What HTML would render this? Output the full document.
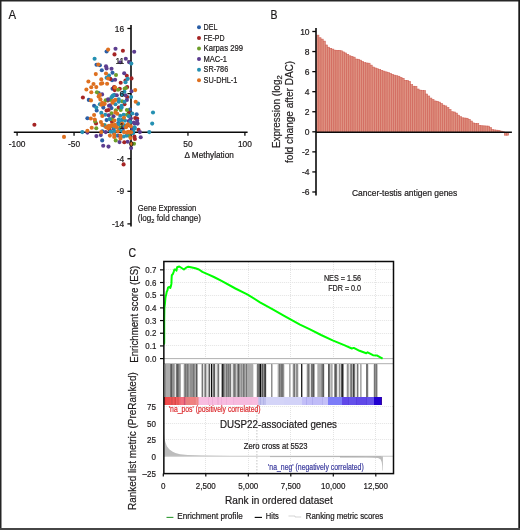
<!DOCTYPE html><html><head><meta charset="utf-8"><style>html,body{margin:0;padding:0;background:#fff;}svg{display:block;filter:blur(0.3px);}text{font-family:"Liberation Sans", sans-serif;stroke-width:0.2px;}</style></head><body>
<svg width="520" height="530" viewBox="0 0 520 530">
<rect x="0" y="0" width="520" height="530" fill="#fff"/>
<text x="8.4" y="18.8" font-size="12.4" text-anchor="start" fill="#1e1b1c" stroke="#1e1b1c" textLength="7.6" lengthAdjust="spacingAndGlyphs">A</text>
<line x1="13.8" y1="132.3" x2="247.6" y2="132.3" stroke="#0a0a0a" stroke-width="1.6"/>
<line x1="131" y1="25" x2="131" y2="226.4" stroke="#0a0a0a" stroke-width="1.6"/>
<line x1="17.10" y1="132.3" x2="17.10" y2="135.8" stroke="#0a0a0a" stroke-width="1.3"/>
<line x1="74.05" y1="132.3" x2="74.05" y2="135.8" stroke="#0a0a0a" stroke-width="1.3"/>
<line x1="187.95" y1="132.3" x2="187.95" y2="135.8" stroke="#0a0a0a" stroke-width="1.3"/>
<line x1="244.90" y1="132.3" x2="244.90" y2="135.8" stroke="#0a0a0a" stroke-width="1.3"/>
<line x1="127.4" y1="28.50" x2="131" y2="28.50" stroke="#0a0a0a" stroke-width="1.3"/>
<line x1="127.4" y1="61.06" x2="131" y2="61.06" stroke="#0a0a0a" stroke-width="1.3"/>
<line x1="127.4" y1="93.63" x2="131" y2="93.63" stroke="#0a0a0a" stroke-width="1.3"/>
<line x1="127.4" y1="126.19" x2="131" y2="126.19" stroke="#0a0a0a" stroke-width="1.3"/>
<line x1="127.4" y1="158.76" x2="131" y2="158.76" stroke="#0a0a0a" stroke-width="1.3"/>
<line x1="127.4" y1="191.32" x2="131" y2="191.32" stroke="#0a0a0a" stroke-width="1.3"/>
<line x1="127.4" y1="223.89" x2="131" y2="223.89" stroke="#0a0a0a" stroke-width="1.3"/>
<circle cx="106.6" cy="51.5" r="2.05" fill="#2a5ea6"/>
<circle cx="96.5" cy="64.8" r="2.05" fill="#2a5ea6"/>
<circle cx="99.9" cy="65.2" r="2.05" fill="#2a5ea6"/>
<circle cx="101.8" cy="70.3" r="2.05" fill="#2a5ea6"/>
<circle cx="112.5" cy="72.8" r="2.05" fill="#2a5ea6"/>
<circle cx="112.1" cy="80.2" r="2.05" fill="#2a5ea6"/>
<circle cx="112.5" cy="88.8" r="2.05" fill="#2a5ea6"/>
<circle cx="98.65" cy="93.1" r="2.05" fill="#2a5ea6"/>
<circle cx="129.9" cy="109.6" r="2.05" fill="#2a5ea6"/>
<circle cx="136.65" cy="114.2" r="2.05" fill="#2a5ea6"/>
<circle cx="88.8" cy="99.9" r="2.05" fill="#2a5ea6"/>
<circle cx="94.1" cy="105.7" r="2.05" fill="#2a5ea6"/>
<circle cx="103.3" cy="107.6" r="2.05" fill="#2a5ea6"/>
<circle cx="96.7" cy="110.5" r="2.05" fill="#2a5ea6"/>
<circle cx="87.4" cy="118.2" r="2.05" fill="#2a5ea6"/>
<circle cx="106.6" cy="120.1" r="2.05" fill="#2a5ea6"/>
<circle cx="102.3" cy="131.2" r="2.05" fill="#2a5ea6"/>
<circle cx="114.4" cy="95.1" r="2.05" fill="#2a5ea6"/>
<circle cx="111.5" cy="108.1" r="2.05" fill="#2a5ea6"/>
<circle cx="118.3" cy="123.0" r="2.05" fill="#2a5ea6"/>
<circle cx="102.2" cy="140.4" r="2.05" fill="#2a5ea6"/>
<circle cx="126.8" cy="75.8" r="2.05" fill="#a52424"/>
<circle cx="131.5" cy="78.4" r="2.05" fill="#a52424"/>
<circle cx="110.3" cy="78.9" r="2.05" fill="#a52424"/>
<circle cx="125.5" cy="80.6" r="2.05" fill="#a52424"/>
<circle cx="120.7" cy="82.8" r="2.05" fill="#a52424"/>
<circle cx="114.2" cy="87.1" r="2.05" fill="#a52424"/>
<circle cx="114.7" cy="90.1" r="2.05" fill="#a52424"/>
<circle cx="119.8" cy="88.8" r="2.05" fill="#a52424"/>
<circle cx="127.2" cy="87.1" r="2.05" fill="#a52424"/>
<circle cx="127.2" cy="97.0" r="2.05" fill="#a52424"/>
<circle cx="122.9" cy="50.8" r="2.05" fill="#a52424"/>
<circle cx="114.5" cy="54.4" r="2.05" fill="#a52424"/>
<circle cx="113.8" cy="88.1" r="2.05" fill="#a52424"/>
<circle cx="135.2" cy="118.1" r="2.05" fill="#a52424"/>
<circle cx="137.1" cy="118.5" r="2.05" fill="#a52424"/>
<circle cx="82.9" cy="97.5" r="2.05" fill="#a52424"/>
<circle cx="106.6" cy="110.5" r="2.05" fill="#a52424"/>
<circle cx="108.6" cy="110.0" r="2.05" fill="#a52424"/>
<circle cx="96.0" cy="123.5" r="2.05" fill="#a52424"/>
<circle cx="107.7" cy="100.4" r="2.05" fill="#a52424"/>
<circle cx="124.5" cy="104.2" r="2.05" fill="#a52424"/>
<circle cx="118.75" cy="107.6" r="2.05" fill="#a52424"/>
<circle cx="128.8" cy="112.9" r="2.05" fill="#a52424"/>
<circle cx="112.0" cy="121.7" r="2.05" fill="#a52424"/>
<circle cx="138.5" cy="129.7" r="2.05" fill="#a52424"/>
<circle cx="108.7" cy="126.3" r="2.05" fill="#a52424"/>
<circle cx="109.6" cy="129.7" r="2.05" fill="#a52424"/>
<circle cx="134.4" cy="136.5" r="2.05" fill="#a52424"/>
<circle cx="134.9" cy="138.9" r="2.05" fill="#a52424"/>
<circle cx="124.3" cy="142.3" r="2.05" fill="#a52424"/>
<circle cx="123.6" cy="164.4" r="2.05" fill="#a52424"/>
<circle cx="34.4" cy="124.7" r="2.05" fill="#a52424"/>
<circle cx="116.0" cy="75.0" r="2.05" fill="#6e9e2a"/>
<circle cx="118.1" cy="89.7" r="2.05" fill="#6e9e2a"/>
<circle cx="124.6" cy="88.8" r="2.05" fill="#6e9e2a"/>
<circle cx="125.9" cy="88.0" r="2.05" fill="#6e9e2a"/>
<circle cx="96.9" cy="92.3" r="2.05" fill="#6e9e2a"/>
<circle cx="105.7" cy="100.2" r="2.05" fill="#6e9e2a"/>
<circle cx="95.1" cy="121.5" r="2.05" fill="#6e9e2a"/>
<circle cx="96.3" cy="128.3" r="2.05" fill="#6e9e2a"/>
<circle cx="110.1" cy="99.9" r="2.05" fill="#6e9e2a"/>
<circle cx="122.1" cy="101.3" r="2.05" fill="#6e9e2a"/>
<circle cx="115.9" cy="110.2" r="2.05" fill="#6e9e2a"/>
<circle cx="120.7" cy="110.0" r="2.05" fill="#6e9e2a"/>
<circle cx="126.9" cy="110.0" r="2.05" fill="#6e9e2a"/>
<circle cx="111.5" cy="113.4" r="2.05" fill="#6e9e2a"/>
<circle cx="126.9" cy="114.8" r="2.05" fill="#6e9e2a"/>
<circle cx="112.0" cy="119.1" r="2.05" fill="#6e9e2a"/>
<circle cx="104.8" cy="125.4" r="2.05" fill="#6e9e2a"/>
<circle cx="120.7" cy="127.3" r="2.05" fill="#6e9e2a"/>
<circle cx="128.7" cy="135.6" r="2.05" fill="#6e9e2a"/>
<circle cx="115.7" cy="140.4" r="2.05" fill="#6e9e2a"/>
<circle cx="134.0" cy="143.75" r="2.05" fill="#6e9e2a"/>
<circle cx="106.0" cy="66.2" r="2.05" fill="#5c3d8f"/>
<circle cx="106.6" cy="68.4" r="2.05" fill="#5c3d8f"/>
<circle cx="111.5" cy="68.75" r="2.05" fill="#5c3d8f"/>
<circle cx="124.2" cy="73.25" r="2.05" fill="#5c3d8f"/>
<circle cx="115.1" cy="79.7" r="2.05" fill="#5c3d8f"/>
<circle cx="131.5" cy="91.2" r="2.05" fill="#5c3d8f"/>
<circle cx="102.1" cy="94.4" r="2.05" fill="#5c3d8f"/>
<circle cx="116.8" cy="95.3" r="2.05" fill="#5c3d8f"/>
<circle cx="125.5" cy="95.3" r="2.05" fill="#5c3d8f"/>
<circle cx="115.5" cy="48.8" r="2.05" fill="#5c3d8f"/>
<circle cx="134.2" cy="51.7" r="2.05" fill="#5c3d8f"/>
<circle cx="125.8" cy="58.75" r="2.05" fill="#5c3d8f"/>
<circle cx="120.3" cy="62.3" r="2.05" fill="#5c3d8f"/>
<circle cx="129.2" cy="62.3" r="2.05" fill="#5c3d8f"/>
<circle cx="137.1" cy="120.7" r="2.05" fill="#5c3d8f"/>
<circle cx="133.8" cy="122.6" r="2.05" fill="#5c3d8f"/>
<circle cx="137.6" cy="123.6" r="2.05" fill="#5c3d8f"/>
<circle cx="108.1" cy="99.4" r="2.05" fill="#5c3d8f"/>
<circle cx="109.0" cy="105.7" r="2.05" fill="#5c3d8f"/>
<circle cx="108.6" cy="115.3" r="2.05" fill="#5c3d8f"/>
<circle cx="87.4" cy="132.6" r="2.05" fill="#5c3d8f"/>
<circle cx="105.7" cy="132.1" r="2.05" fill="#5c3d8f"/>
<circle cx="126.9" cy="99.9" r="2.05" fill="#5c3d8f"/>
<circle cx="110.1" cy="105.2" r="2.05" fill="#5c3d8f"/>
<circle cx="113.5" cy="116.25" r="2.05" fill="#5c3d8f"/>
<circle cx="130.8" cy="118.2" r="2.05" fill="#5c3d8f"/>
<circle cx="128.8" cy="121.1" r="2.05" fill="#5c3d8f"/>
<circle cx="134.6" cy="123.5" r="2.05" fill="#5c3d8f"/>
<circle cx="139.9" cy="132.1" r="2.05" fill="#5c3d8f"/>
<circle cx="123.1" cy="128.3" r="2.05" fill="#5c3d8f"/>
<circle cx="132.7" cy="128.75" r="2.05" fill="#5c3d8f"/>
<circle cx="113.75" cy="128.8" r="2.05" fill="#5c3d8f"/>
<circle cx="96.4" cy="136.1" r="2.05" fill="#5c3d8f"/>
<circle cx="100.8" cy="135.1" r="2.05" fill="#5c3d8f"/>
<circle cx="118.1" cy="135.6" r="2.05" fill="#5c3d8f"/>
<circle cx="140.7" cy="137.3" r="2.05" fill="#5c3d8f"/>
<circle cx="119.5" cy="142.1" r="2.05" fill="#5c3d8f"/>
<circle cx="127.7" cy="141.8" r="2.05" fill="#5c3d8f"/>
<circle cx="103.2" cy="145.7" r="2.05" fill="#5c3d8f"/>
<circle cx="108.5" cy="146.6" r="2.05" fill="#5c3d8f"/>
<circle cx="131.1" cy="148.1" r="2.05" fill="#5c3d8f"/>
<circle cx="94.6" cy="58.75" r="2.05" fill="#2490b2"/>
<circle cx="109.0" cy="75.6" r="2.05" fill="#2490b2"/>
<circle cx="106.6" cy="77.7" r="2.05" fill="#2490b2"/>
<circle cx="127.6" cy="78.9" r="2.05" fill="#2490b2"/>
<circle cx="125.5" cy="82.3" r="2.05" fill="#2490b2"/>
<circle cx="124.4" cy="91.8" r="2.05" fill="#2490b2"/>
<circle cx="113.4" cy="95.3" r="2.05" fill="#2490b2"/>
<circle cx="122.0" cy="94.4" r="2.05" fill="#2490b2"/>
<circle cx="131.1" cy="97.0" r="2.05" fill="#2490b2"/>
<circle cx="131.3" cy="63.6" r="2.05" fill="#2490b2"/>
<circle cx="138.1" cy="103.65" r="2.05" fill="#2490b2"/>
<circle cx="132.3" cy="113.5" r="2.05" fill="#2490b2"/>
<circle cx="153.0" cy="112.5" r="2.05" fill="#2490b2"/>
<circle cx="152.2" cy="123.6" r="2.05" fill="#2490b2"/>
<circle cx="99.9" cy="104.2" r="2.05" fill="#2490b2"/>
<circle cx="96.3" cy="107.6" r="2.05" fill="#2490b2"/>
<circle cx="101.3" cy="112.9" r="2.05" fill="#2490b2"/>
<circle cx="105.2" cy="114.8" r="2.05" fill="#2490b2"/>
<circle cx="104.2" cy="125.4" r="2.05" fill="#2490b2"/>
<circle cx="82.3" cy="132.1" r="2.05" fill="#2490b2"/>
<circle cx="112.5" cy="96.1" r="2.05" fill="#2490b2"/>
<circle cx="111.5" cy="97.3" r="2.05" fill="#2490b2"/>
<circle cx="118.75" cy="99.4" r="2.05" fill="#2490b2"/>
<circle cx="118.75" cy="101.8" r="2.05" fill="#2490b2"/>
<circle cx="124.5" cy="101.8" r="2.05" fill="#2490b2"/>
<circle cx="115.4" cy="104.2" r="2.05" fill="#2490b2"/>
<circle cx="121.6" cy="105.7" r="2.05" fill="#2490b2"/>
<circle cx="121.6" cy="107.6" r="2.05" fill="#2490b2"/>
<circle cx="120.2" cy="115.8" r="2.05" fill="#2490b2"/>
<circle cx="123.6" cy="114.8" r="2.05" fill="#2490b2"/>
<circle cx="128.8" cy="116.25" r="2.05" fill="#2490b2"/>
<circle cx="109.6" cy="119.1" r="2.05" fill="#2490b2"/>
<circle cx="118.75" cy="119.6" r="2.05" fill="#2490b2"/>
<circle cx="122.1" cy="119.6" r="2.05" fill="#2490b2"/>
<circle cx="125.0" cy="120.6" r="2.05" fill="#2490b2"/>
<circle cx="121.2" cy="122.0" r="2.05" fill="#2490b2"/>
<circle cx="130.3" cy="122.0" r="2.05" fill="#2490b2"/>
<circle cx="118.3" cy="124.4" r="2.05" fill="#2490b2"/>
<circle cx="124.5" cy="125.4" r="2.05" fill="#2490b2"/>
<circle cx="134.6" cy="127.3" r="2.05" fill="#2490b2"/>
<circle cx="149.3" cy="132.1" r="2.05" fill="#2490b2"/>
<circle cx="114.0" cy="127.3" r="2.05" fill="#2490b2"/>
<circle cx="110.6" cy="131.6" r="2.05" fill="#2490b2"/>
<circle cx="113.5" cy="132.6" r="2.05" fill="#2490b2"/>
<circle cx="122.6" cy="131.2" r="2.05" fill="#2490b2"/>
<circle cx="133.2" cy="131.6" r="2.05" fill="#2490b2"/>
<circle cx="119.2" cy="129.7" r="2.05" fill="#2490b2"/>
<circle cx="114.2" cy="131.25" r="2.05" fill="#2490b2"/>
<circle cx="133.0" cy="133.2" r="2.05" fill="#2490b2"/>
<circle cx="115.7" cy="135.6" r="2.05" fill="#2490b2"/>
<circle cx="123.8" cy="136.5" r="2.05" fill="#2490b2"/>
<circle cx="126.7" cy="135.6" r="2.05" fill="#2490b2"/>
<circle cx="134.7" cy="128.5" r="2.05" fill="#2490b2"/>
<circle cx="108.1" cy="49.6" r="2.05" fill="#de7020"/>
<circle cx="98.3" cy="64.5" r="2.05" fill="#de7020"/>
<circle cx="95.8" cy="74.1" r="2.05" fill="#de7020"/>
<circle cx="106.0" cy="73.5" r="2.05" fill="#de7020"/>
<circle cx="108.1" cy="78.5" r="2.05" fill="#de7020"/>
<circle cx="101.3" cy="79.4" r="2.05" fill="#de7020"/>
<circle cx="88.4" cy="81.5" r="2.05" fill="#de7020"/>
<circle cx="93.5" cy="84.0" r="2.05" fill="#de7020"/>
<circle cx="100.9" cy="83.75" r="2.05" fill="#de7020"/>
<circle cx="102.3" cy="83.3" r="2.05" fill="#de7020"/>
<circle cx="107.1" cy="83.75" r="2.05" fill="#de7020"/>
<circle cx="91.25" cy="87.3" r="2.05" fill="#de7020"/>
<circle cx="96.3" cy="87.1" r="2.05" fill="#de7020"/>
<circle cx="86.4" cy="89.5" r="2.05" fill="#de7020"/>
<circle cx="115.1" cy="87.5" r="2.05" fill="#de7020"/>
<circle cx="135.2" cy="90.1" r="2.05" fill="#de7020"/>
<circle cx="91.3" cy="92.3" r="2.05" fill="#de7020"/>
<circle cx="99.9" cy="94.9" r="2.05" fill="#de7020"/>
<circle cx="98.65" cy="96.6" r="2.05" fill="#de7020"/>
<circle cx="135.7" cy="101.7" r="2.05" fill="#de7020"/>
<circle cx="100.4" cy="99.4" r="2.05" fill="#de7020"/>
<circle cx="91.0" cy="100.4" r="2.05" fill="#de7020"/>
<circle cx="102.3" cy="102.8" r="2.05" fill="#de7020"/>
<circle cx="104.7" cy="103.75" r="2.05" fill="#de7020"/>
<circle cx="101.3" cy="104.7" r="2.05" fill="#de7020"/>
<circle cx="102.3" cy="116.0" r="2.05" fill="#de7020"/>
<circle cx="94.1" cy="115.0" r="2.05" fill="#de7020"/>
<circle cx="90.8" cy="118.5" r="2.05" fill="#de7020"/>
<circle cx="94.8" cy="119.6" r="2.05" fill="#de7020"/>
<circle cx="100.9" cy="122.0" r="2.05" fill="#de7020"/>
<circle cx="102.3" cy="124.9" r="2.05" fill="#de7020"/>
<circle cx="106.2" cy="127.3" r="2.05" fill="#de7020"/>
<circle cx="108.1" cy="128.3" r="2.05" fill="#de7020"/>
<circle cx="91.7" cy="127.8" r="2.05" fill="#de7020"/>
<circle cx="87.4" cy="130.7" r="2.05" fill="#de7020"/>
<circle cx="101.3" cy="132.1" r="2.05" fill="#de7020"/>
<circle cx="113.5" cy="100.9" r="2.05" fill="#de7020"/>
<circle cx="115.4" cy="99.9" r="2.05" fill="#de7020"/>
<circle cx="112.5" cy="102.8" r="2.05" fill="#de7020"/>
<circle cx="103.8" cy="104.2" r="2.05" fill="#de7020"/>
<circle cx="115.4" cy="112.4" r="2.05" fill="#de7020"/>
<circle cx="117.3" cy="113.8" r="2.05" fill="#de7020"/>
<circle cx="124.0" cy="117.7" r="2.05" fill="#de7020"/>
<circle cx="114.4" cy="120.6" r="2.05" fill="#de7020"/>
<circle cx="109.1" cy="125.9" r="2.05" fill="#de7020"/>
<circle cx="112.0" cy="124.9" r="2.05" fill="#de7020"/>
<circle cx="114.9" cy="124.9" r="2.05" fill="#de7020"/>
<circle cx="122.1" cy="123.5" r="2.05" fill="#de7020"/>
<circle cx="127.9" cy="124.4" r="2.05" fill="#de7020"/>
<circle cx="130.8" cy="126.3" r="2.05" fill="#de7020"/>
<circle cx="116.8" cy="127.3" r="2.05" fill="#de7020"/>
<circle cx="126.0" cy="127.3" r="2.05" fill="#de7020"/>
<circle cx="117.8" cy="131.2" r="2.05" fill="#de7020"/>
<circle cx="124.0" cy="132.1" r="2.05" fill="#de7020"/>
<circle cx="126.9" cy="132.6" r="2.05" fill="#de7020"/>
<circle cx="129.8" cy="132.1" r="2.05" fill="#de7020"/>
<circle cx="110.4" cy="126.4" r="2.05" fill="#de7020"/>
<circle cx="114.2" cy="126.0" r="2.05" fill="#de7020"/>
<circle cx="126.7" cy="126.0" r="2.05" fill="#de7020"/>
<circle cx="128.2" cy="131.7" r="2.05" fill="#de7020"/>
<circle cx="131.1" cy="132.2" r="2.05" fill="#de7020"/>
<circle cx="109.9" cy="135.6" r="2.05" fill="#de7020"/>
<circle cx="114.2" cy="134.6" r="2.05" fill="#de7020"/>
<circle cx="114.2" cy="137.0" r="2.05" fill="#de7020"/>
<circle cx="120.5" cy="135.6" r="2.05" fill="#de7020"/>
<circle cx="120.5" cy="138.5" r="2.05" fill="#de7020"/>
<circle cx="130.6" cy="138.0" r="2.05" fill="#de7020"/>
<circle cx="64.0" cy="136.9" r="2.05" fill="#de7020"/>
<ellipse cx="131.3" cy="143.9" rx="1.7" ry="2.4" fill="#de7020" stroke="#111" stroke-width="0.9"/>
<text x="124.2" y="31.5" font-size="8.4" text-anchor="end" fill="#1e1b1c" stroke="#1e1b1c" >16</text>
<text x="124.2" y="64.06" font-size="8.4" text-anchor="end" fill="#1e1b1c" stroke="#1e1b1c" >11</text>
<text x="124.2" y="96.63" font-size="8.4" text-anchor="end" fill="#1e1b1c" stroke="#1e1b1c" >6</text>
<text x="124.2" y="129.19" font-size="8.4" text-anchor="end" fill="#1e1b1c" stroke="#1e1b1c" >1</text>
<text x="124.2" y="161.76" font-size="8.4" text-anchor="end" fill="#1e1b1c" stroke="#1e1b1c" >-4</text>
<text x="124.2" y="194.32" font-size="8.4" text-anchor="end" fill="#1e1b1c" stroke="#1e1b1c" >-9</text>
<text x="124.2" y="226.89" font-size="8.4" text-anchor="end" fill="#1e1b1c" stroke="#1e1b1c" >-14</text>
<text x="17.1" y="146.8" font-size="8.4" text-anchor="middle" fill="#1e1b1c" stroke="#1e1b1c" >-100</text>
<text x="74.05" y="146.8" font-size="8.4" text-anchor="middle" fill="#1e1b1c" stroke="#1e1b1c" >-50</text>
<text x="187.95" y="146.8" font-size="8.4" text-anchor="middle" fill="#1e1b1c" stroke="#1e1b1c" >50</text>
<text x="244.9" y="146.8" font-size="8.4" text-anchor="middle" fill="#1e1b1c" stroke="#1e1b1c" >100</text>
<text x="184.5" y="157.8" font-size="8.2" text-anchor="start" fill="#1e1b1c" stroke="#1e1b1c" textLength="49.3" lengthAdjust="spacingAndGlyphs">&#916; Methylation</text>
<text x="137.8" y="210.6" font-size="8.6" text-anchor="start" fill="#1e1b1c" stroke="#1e1b1c" textLength="58.5" lengthAdjust="spacingAndGlyphs">Gene Expression</text>
<text x="137.8" y="221" font-size="8.6" fill="#1e1b1c" stroke="#1e1b1c" textLength="63.2" lengthAdjust="spacingAndGlyphs">(log<tspan font-size="6" dy="1.8">2</tspan><tspan dy="-1.8"> fold change)</tspan></text>
<circle cx="199" cy="27.30" r="2" fill="#2a5ea6"/>
<text x="203.6" y="30.0" font-size="8.6" text-anchor="start" fill="#1e1b1c" stroke="#1e1b1c" textLength="14.0" lengthAdjust="spacingAndGlyphs">DEL</text>
<circle cx="199" cy="37.90" r="2" fill="#a52424"/>
<text x="203.6" y="40.6" font-size="8.6" text-anchor="start" fill="#1e1b1c" stroke="#1e1b1c" textLength="21.0" lengthAdjust="spacingAndGlyphs">FE-PD</text>
<circle cx="199" cy="48.50" r="2" fill="#6e9e2a"/>
<text x="203.6" y="51.2" font-size="8.6" text-anchor="start" fill="#1e1b1c" stroke="#1e1b1c" textLength="39.4" lengthAdjust="spacingAndGlyphs">Karpas 299</text>
<circle cx="199" cy="59.10" r="2" fill="#5c3d8f"/>
<text x="203.6" y="61.8" font-size="8.6" text-anchor="start" fill="#1e1b1c" stroke="#1e1b1c" textLength="23.4" lengthAdjust="spacingAndGlyphs">MAC-1</text>
<circle cx="199" cy="69.70" r="2" fill="#2490b2"/>
<text x="203.6" y="72.4" font-size="8.6" text-anchor="start" fill="#1e1b1c" stroke="#1e1b1c" textLength="24.6" lengthAdjust="spacingAndGlyphs">SR-786</text>
<circle cx="199" cy="80.30" r="2" fill="#de7020"/>
<text x="203.6" y="83.0" font-size="8.6" text-anchor="start" fill="#1e1b1c" stroke="#1e1b1c" textLength="33.8" lengthAdjust="spacingAndGlyphs">SU-DHL-1</text>
<text x="270.6" y="18.7" font-size="12.4" text-anchor="start" fill="#1e1b1c" stroke="#1e1b1c" textLength="7.0" lengthAdjust="spacingAndGlyphs">B</text>
<g fill="#de9282" stroke="#cf6055" stroke-width="0.6"><rect x="316.80" y="35.15" width="2.13" height="97.15"/><rect x="318.93" y="37.74" width="2.13" height="94.56"/><rect x="321.06" y="39.14" width="2.13" height="93.16"/><rect x="323.19" y="41.12" width="2.13" height="91.18"/><rect x="325.32" y="44.98" width="2.13" height="87.32"/><rect x="327.46" y="47.21" width="2.13" height="85.09"/><rect x="329.59" y="48.30" width="2.13" height="84.00"/><rect x="331.72" y="49.10" width="2.13" height="83.20"/><rect x="333.85" y="50.15" width="2.13" height="82.15"/><rect x="335.98" y="50.30" width="2.13" height="82.00"/><rect x="338.11" y="50.30" width="2.13" height="82.00"/><rect x="340.24" y="50.82" width="2.13" height="81.48"/><rect x="342.37" y="51.93" width="2.13" height="80.37"/><rect x="344.50" y="52.95" width="2.13" height="79.35"/><rect x="346.64" y="54.40" width="2.13" height="77.90"/><rect x="348.77" y="55.79" width="2.13" height="76.51"/><rect x="350.90" y="56.51" width="2.13" height="75.79"/><rect x="353.03" y="57.17" width="2.13" height="75.13"/><rect x="355.16" y="59.07" width="2.13" height="73.23"/><rect x="357.29" y="59.25" width="2.13" height="73.05"/><rect x="359.42" y="60.16" width="2.13" height="72.14"/><rect x="361.55" y="61.52" width="2.13" height="70.78"/><rect x="363.68" y="62.67" width="2.13" height="69.63"/><rect x="365.82" y="63.00" width="2.13" height="69.30"/><rect x="367.95" y="63.22" width="2.13" height="69.08"/><rect x="370.08" y="65.14" width="2.13" height="67.16"/><rect x="372.21" y="67.06" width="2.13" height="65.24"/><rect x="374.34" y="67.97" width="2.13" height="64.33"/><rect x="376.47" y="68.76" width="2.13" height="63.54"/><rect x="378.60" y="69.58" width="2.13" height="62.72"/><rect x="380.73" y="70.38" width="2.13" height="61.92"/><rect x="382.86" y="71.14" width="2.13" height="61.16"/><rect x="385.00" y="71.89" width="2.13" height="60.41"/><rect x="387.13" y="72.62" width="2.13" height="59.68"/><rect x="389.26" y="73.49" width="2.13" height="58.81"/><rect x="391.39" y="74.39" width="2.13" height="57.91"/><rect x="393.52" y="75.12" width="2.13" height="57.18"/><rect x="395.65" y="75.73" width="2.13" height="56.57"/><rect x="397.78" y="76.23" width="2.13" height="56.07"/><rect x="399.91" y="77.49" width="2.13" height="54.81"/><rect x="402.04" y="78.32" width="2.13" height="53.98"/><rect x="404.18" y="80.35" width="2.13" height="51.95"/><rect x="406.31" y="80.49" width="2.13" height="51.81"/><rect x="408.44" y="81.53" width="2.13" height="50.77"/><rect x="410.57" y="84.68" width="2.13" height="47.62"/><rect x="412.70" y="86.20" width="2.13" height="46.10"/><rect x="414.83" y="86.44" width="2.13" height="45.86"/><rect x="416.96" y="89.02" width="2.13" height="43.28"/><rect x="419.09" y="90.12" width="2.13" height="42.18"/><rect x="421.22" y="90.48" width="2.13" height="41.82"/><rect x="423.36" y="90.60" width="2.13" height="41.70"/><rect x="425.49" y="94.01" width="2.13" height="38.29"/><rect x="427.62" y="96.00" width="2.13" height="36.30"/><rect x="429.75" y="98.08" width="2.13" height="34.22"/><rect x="431.88" y="99.58" width="2.13" height="32.72"/><rect x="434.01" y="100.95" width="2.13" height="31.35"/><rect x="436.14" y="101.28" width="2.13" height="31.02"/><rect x="438.27" y="102.12" width="2.13" height="30.18"/><rect x="440.40" y="103.54" width="2.13" height="28.76"/><rect x="442.54" y="105.11" width="2.13" height="27.19"/><rect x="444.67" y="105.92" width="2.13" height="26.38"/><rect x="446.80" y="107.55" width="2.13" height="24.75"/><rect x="448.93" y="109.62" width="2.13" height="22.68"/><rect x="451.06" y="111.73" width="2.13" height="20.57"/><rect x="453.19" y="112.00" width="2.13" height="20.30"/><rect x="455.32" y="113.09" width="2.13" height="19.21"/><rect x="457.45" y="115.14" width="2.13" height="17.16"/><rect x="459.58" y="116.74" width="2.13" height="15.56"/><rect x="461.72" y="117.82" width="2.13" height="14.48"/><rect x="463.85" y="118.04" width="2.13" height="14.26"/><rect x="465.98" y="118.26" width="2.13" height="14.04"/><rect x="468.11" y="119.39" width="2.13" height="12.91"/><rect x="470.24" y="121.06" width="2.13" height="11.24"/><rect x="472.37" y="122.93" width="2.13" height="9.37"/><rect x="474.50" y="123.44" width="2.13" height="8.86"/><rect x="476.63" y="123.56" width="2.13" height="8.74"/><rect x="478.76" y="125.39" width="2.13" height="6.91"/><rect x="480.90" y="125.75" width="2.13" height="6.55"/><rect x="483.03" y="125.87" width="2.13" height="6.43"/><rect x="485.16" y="126.00" width="2.13" height="6.30"/><rect x="487.29" y="126.13" width="2.13" height="6.17"/><rect x="489.42" y="127.69" width="2.13" height="4.61"/><rect x="491.55" y="129.61" width="2.13" height="2.69"/><rect x="493.68" y="129.93" width="2.13" height="2.37"/><rect x="495.81" y="130.19" width="2.13" height="2.11"/><rect x="497.94" y="130.58" width="2.13" height="1.72"/><rect x="500.08" y="131.11" width="2.13" height="1.19"/><rect x="502.21" y="131.79" width="2.13" height="0.51"/><rect x="504.34" y="132.30" width="2.13" height="2.90"/><rect x="506.47" y="132.30" width="2.13" height="2.90"/></g>
<line x1="316" y1="28.1" x2="316" y2="195.5" stroke="#0a0a0a" stroke-width="1.6"/>
<line x1="316" y1="132.3" x2="511.9" y2="132.3" stroke="#0a0a0a" stroke-width="1.6"/>
<line x1="312.3" y1="31.50" x2="316" y2="31.50" stroke="#0a0a0a" stroke-width="1.3"/>
<text x="309.6" y="34.5" font-size="8.5" text-anchor="end" fill="#1e1b1c" stroke="#1e1b1c" >10</text>
<line x1="312.3" y1="51.56" x2="316" y2="51.56" stroke="#0a0a0a" stroke-width="1.3"/>
<text x="309.6" y="54.56" font-size="8.5" text-anchor="end" fill="#1e1b1c" stroke="#1e1b1c" >8</text>
<line x1="312.3" y1="71.62" x2="316" y2="71.62" stroke="#0a0a0a" stroke-width="1.3"/>
<text x="309.6" y="74.62" font-size="8.5" text-anchor="end" fill="#1e1b1c" stroke="#1e1b1c" >6</text>
<line x1="312.3" y1="91.68" x2="316" y2="91.68" stroke="#0a0a0a" stroke-width="1.3"/>
<text x="309.6" y="94.68" font-size="8.5" text-anchor="end" fill="#1e1b1c" stroke="#1e1b1c" >4</text>
<line x1="312.3" y1="111.74" x2="316" y2="111.74" stroke="#0a0a0a" stroke-width="1.3"/>
<text x="309.6" y="114.74" font-size="8.5" text-anchor="end" fill="#1e1b1c" stroke="#1e1b1c" >2</text>
<line x1="312.3" y1="131.80" x2="316" y2="131.80" stroke="#0a0a0a" stroke-width="1.3"/>
<text x="309.6" y="134.8" font-size="8.5" text-anchor="end" fill="#1e1b1c" stroke="#1e1b1c" >0</text>
<line x1="312.3" y1="151.86" x2="316" y2="151.86" stroke="#0a0a0a" stroke-width="1.3"/>
<text x="309.6" y="154.86" font-size="8.5" text-anchor="end" fill="#1e1b1c" stroke="#1e1b1c" >-2</text>
<line x1="312.3" y1="171.92" x2="316" y2="171.92" stroke="#0a0a0a" stroke-width="1.3"/>
<text x="309.6" y="174.92" font-size="8.5" text-anchor="end" fill="#1e1b1c" stroke="#1e1b1c" >-4</text>
<line x1="312.3" y1="191.98" x2="316" y2="191.98" stroke="#0a0a0a" stroke-width="1.3"/>
<text x="309.6" y="194.98" font-size="8.5" text-anchor="end" fill="#1e1b1c" stroke="#1e1b1c" >-6</text>
<text x="352" y="195.7" font-size="9" text-anchor="start" fill="#1e1b1c" stroke="#1e1b1c" textLength="105.3" lengthAdjust="spacingAndGlyphs">Cancer-testis antigen genes</text>
<g transform="translate(279.7,148.1) rotate(-90)"><text x="0" y="0" font-size="10.4" fill="#1e1b1c" stroke="#1e1b1c" textLength="72.8" lengthAdjust="spacingAndGlyphs">Expression (log<tspan font-size="8" dy="2.0">2</tspan></text></g>
<g transform="translate(292.9,163.0) rotate(-90)"><text x="0" y="0" font-size="10.4" fill="#1e1b1c" stroke="#1e1b1c" textLength="102.2" lengthAdjust="spacingAndGlyphs">fold change after DAC)</text></g>
<text x="128.4" y="256.8" font-size="12.4" text-anchor="start" fill="#1e1b1c" stroke="#1e1b1c" textLength="7.6" lengthAdjust="spacingAndGlyphs">C</text>
<g stroke="#e3e3e3" stroke-width="1" stroke-dasharray="1,1"><line x1="163.85" y1="345.50" x2="393.5" y2="345.50"/><line x1="163.85" y1="333.50" x2="393.5" y2="333.50"/><line x1="163.85" y1="320.50" x2="393.5" y2="320.50"/><line x1="163.85" y1="307.50" x2="393.5" y2="307.50"/><line x1="163.85" y1="295.50" x2="393.5" y2="295.50"/><line x1="163.85" y1="282.50" x2="393.5" y2="282.50"/><line x1="163.85" y1="269.50" x2="393.5" y2="269.50"/><line x1="205.50" y1="262" x2="205.50" y2="358"/><line x1="248.50" y1="262" x2="248.50" y2="358"/><line x1="290.50" y1="262" x2="290.50" y2="358"/><line x1="333.50" y1="262" x2="333.50" y2="358"/><line x1="375.50" y1="262" x2="375.50" y2="358"/><line x1="163.85" y1="406.50" x2="393.5" y2="406.50"/><line x1="163.85" y1="423.50" x2="393.5" y2="423.50"/><line x1="163.85" y1="439.50" x2="393.5" y2="439.50"/><line x1="205.50" y1="406" x2="205.50" y2="473.6"/><line x1="248.50" y1="406" x2="248.50" y2="473.6"/><line x1="290.50" y1="406" x2="290.50" y2="473.6"/><line x1="333.50" y1="406" x2="333.50" y2="473.6"/><line x1="375.50" y1="406" x2="375.50" y2="473.6"/></g>
<line x1="256.9" y1="406" x2="256.9" y2="473.6" stroke="#bdbdbd" stroke-width="0.9" stroke-dasharray="1.5,1.5"/>
<line x1="163.85" y1="358.6" x2="393.5" y2="358.6" stroke="#a8a8a8" stroke-width="0.9"/>
<line x1="163.85" y1="363.7" x2="393.5" y2="363.7" stroke="#9a9a9a" stroke-width="0.8"/>
<g shape-rendering="crispEdges"><rect x="165" y="364.3" width="1" height="32.8" fill="rgb(144,144,144)"/><rect x="166" y="364.3" width="1" height="32.8" fill="rgb(171,171,171)"/><rect x="167" y="364.3" width="1" height="32.8" fill="rgb(171,171,171)"/><rect x="168" y="364.3" width="1" height="32.8" fill="rgb(171,171,171)"/><rect x="169" y="364.3" width="1" height="32.8" fill="rgb(171,171,171)"/><rect x="170" y="364.3" width="1" height="32.8" fill="rgb(117,117,117)"/><rect x="171" y="364.3" width="1" height="32.8" fill="rgb(90,90,90)"/><rect x="172" y="364.3" width="1" height="32.8" fill="rgb(144,144,144)"/><rect x="173" y="364.3" width="1" height="32.8" fill="rgb(144,144,144)"/><rect x="174" y="364.3" width="1" height="32.8" fill="rgb(171,171,171)"/><rect x="175" y="364.3" width="1" height="32.8" fill="rgb(225,225,225)"/><rect x="176" y="364.3" width="1" height="32.8" fill="rgb(117,117,117)"/><rect x="177" y="364.3" width="1" height="32.8" fill="rgb(90,90,90)"/><rect x="178" y="364.3" width="1" height="32.8" fill="rgb(117,117,117)"/><rect x="179" y="364.3" width="1" height="32.8" fill="rgb(144,144,144)"/><rect x="180" y="364.3" width="1" height="32.8" fill="rgb(171,171,171)"/><rect x="183" y="364.3" width="1" height="32.8" fill="rgb(225,225,225)"/><rect x="184" y="364.3" width="1" height="32.8" fill="rgb(144,144,144)"/><rect x="185" y="364.3" width="1" height="32.8" fill="rgb(117,117,117)"/><rect x="186" y="364.3" width="1" height="32.8" fill="rgb(144,144,144)"/><rect x="187" y="364.3" width="1" height="32.8" fill="rgb(117,117,117)"/><rect x="188" y="364.3" width="1" height="32.8" fill="rgb(144,144,144)"/><rect x="189" y="364.3" width="1" height="32.8" fill="rgb(171,171,171)"/><rect x="190" y="364.3" width="1" height="32.8" fill="rgb(144,144,144)"/><rect x="191" y="364.3" width="1" height="32.8" fill="rgb(144,144,144)"/><rect x="192" y="364.3" width="1" height="32.8" fill="rgb(144,144,144)"/><rect x="193" y="364.3" width="1" height="32.8" fill="rgb(117,117,117)"/><rect x="194" y="364.3" width="1" height="32.8" fill="rgb(144,144,144)"/><rect x="195" y="364.3" width="1" height="32.8" fill="rgb(171,171,171)"/><rect x="196" y="364.3" width="1" height="32.8" fill="rgb(90,90,90)"/><rect x="197" y="364.3" width="1" height="32.8" fill="rgb(171,171,171)"/><rect x="201" y="364.3" width="1" height="32.8" fill="rgb(198,198,198)"/><rect x="202" y="364.3" width="1" height="32.8" fill="rgb(117,117,117)"/><rect x="203" y="364.3" width="1" height="32.8" fill="rgb(225,225,225)"/><rect x="204" y="364.3" width="1" height="32.8" fill="rgb(171,171,171)"/><rect x="205" y="364.3" width="1" height="32.8" fill="rgb(117,117,117)"/><rect x="206" y="364.3" width="1" height="32.8" fill="rgb(198,198,198)"/><rect x="207" y="364.3" width="1" height="32.8" fill="rgb(225,225,225)"/><rect x="208" y="364.3" width="1" height="32.8" fill="rgb(171,171,171)"/><rect x="209" y="364.3" width="1" height="32.8" fill="rgb(90,90,90)"/><rect x="210" y="364.3" width="1" height="32.8" fill="rgb(225,225,225)"/><rect x="211" y="364.3" width="1" height="32.8" fill="rgb(9,9,9)"/><rect x="212" y="364.3" width="1" height="32.8" fill="rgb(171,171,171)"/><rect x="213" y="364.3" width="1" height="32.8" fill="rgb(117,117,117)"/><rect x="214" y="364.3" width="1" height="32.8" fill="rgb(90,90,90)"/><rect x="215" y="364.3" width="1" height="32.8" fill="rgb(225,225,225)"/><rect x="216" y="364.3" width="1" height="32.8" fill="rgb(225,225,225)"/><rect x="217" y="364.3" width="1" height="32.8" fill="rgb(171,171,171)"/><rect x="218" y="364.3" width="1" height="32.8" fill="rgb(117,117,117)"/><rect x="219" y="364.3" width="1" height="32.8" fill="rgb(225,225,225)"/><rect x="221" y="364.3" width="1" height="32.8" fill="rgb(171,171,171)"/><rect x="222" y="364.3" width="1" height="32.8" fill="rgb(36,36,36)"/><rect x="223" y="364.3" width="1" height="32.8" fill="rgb(90,90,90)"/><rect x="224" y="364.3" width="1" height="32.8" fill="rgb(144,144,144)"/><rect x="225" y="364.3" width="1" height="32.8" fill="rgb(171,171,171)"/><rect x="226" y="364.3" width="1" height="32.8" fill="rgb(117,117,117)"/><rect x="227" y="364.3" width="1" height="32.8" fill="rgb(144,144,144)"/><rect x="228" y="364.3" width="1" height="32.8" fill="rgb(117,117,117)"/><rect x="229" y="364.3" width="1" height="32.8" fill="rgb(144,144,144)"/><rect x="230" y="364.3" width="1" height="32.8" fill="rgb(117,117,117)"/><rect x="231" y="364.3" width="1" height="32.8" fill="rgb(225,225,225)"/><rect x="232" y="364.3" width="1" height="32.8" fill="rgb(225,225,225)"/><rect x="233" y="364.3" width="1" height="32.8" fill="rgb(144,144,144)"/><rect x="234" y="364.3" width="1" height="32.8" fill="rgb(117,117,117)"/><rect x="235" y="364.3" width="1" height="32.8" fill="rgb(144,144,144)"/><rect x="236" y="364.3" width="1" height="32.8" fill="rgb(198,198,198)"/><rect x="237" y="364.3" width="1" height="32.8" fill="rgb(144,144,144)"/><rect x="238" y="364.3" width="1" height="32.8" fill="rgb(90,90,90)"/><rect x="239" y="364.3" width="1" height="32.8" fill="rgb(144,144,144)"/><rect x="240" y="364.3" width="1" height="32.8" fill="rgb(171,171,171)"/><rect x="241" y="364.3" width="1" height="32.8" fill="rgb(144,144,144)"/><rect x="242" y="364.3" width="1" height="32.8" fill="rgb(171,171,171)"/><rect x="243" y="364.3" width="1" height="32.8" fill="rgb(117,117,117)"/><rect x="244" y="364.3" width="1" height="32.8" fill="rgb(144,144,144)"/><rect x="245" y="364.3" width="1" height="32.8" fill="rgb(171,171,171)"/><rect x="246" y="364.3" width="1" height="32.8" fill="rgb(117,117,117)"/><rect x="247" y="364.3" width="1" height="32.8" fill="rgb(171,171,171)"/><rect x="248" y="364.3" width="1" height="32.8" fill="rgb(171,171,171)"/><rect x="249" y="364.3" width="1" height="32.8" fill="rgb(171,171,171)"/><rect x="250" y="364.3" width="1" height="32.8" fill="rgb(171,171,171)"/><rect x="251" y="364.3" width="1" height="32.8" fill="rgb(171,171,171)"/><rect x="252" y="364.3" width="1" height="32.8" fill="rgb(171,171,171)"/><rect x="253" y="364.3" width="1" height="32.8" fill="rgb(225,225,225)"/><rect x="256" y="364.3" width="1" height="32.8" fill="rgb(225,225,225)"/><rect x="257" y="364.3" width="1" height="32.8" fill="rgb(117,117,117)"/><rect x="258" y="364.3" width="1" height="32.8" fill="rgb(117,117,117)"/><rect x="259" y="364.3" width="1" height="32.8" fill="rgb(90,90,90)"/><rect x="260" y="364.3" width="1" height="32.8" fill="rgb(9,9,9)"/><rect x="261" y="364.3" width="1" height="32.8" fill="rgb(144,144,144)"/><rect x="262" y="364.3" width="1" height="32.8" fill="rgb(90,90,90)"/><rect x="263" y="364.3" width="1" height="32.8" fill="rgb(144,144,144)"/><rect x="264" y="364.3" width="1" height="32.8" fill="rgb(90,90,90)"/><rect x="265" y="364.3" width="1" height="32.8" fill="rgb(63,63,63)"/><rect x="266" y="364.3" width="1" height="32.8" fill="rgb(225,225,225)"/><rect x="271" y="364.3" width="1" height="32.8" fill="rgb(144,144,144)"/><rect x="272" y="364.3" width="1" height="32.8" fill="rgb(198,198,198)"/><rect x="277" y="364.3" width="1" height="32.8" fill="rgb(225,225,225)"/><rect x="278" y="364.3" width="1" height="32.8" fill="rgb(171,171,171)"/><rect x="279" y="364.3" width="1" height="32.8" fill="rgb(117,117,117)"/><rect x="280" y="364.3" width="1" height="32.8" fill="rgb(144,144,144)"/><rect x="281" y="364.3" width="1" height="32.8" fill="rgb(117,117,117)"/><rect x="282" y="364.3" width="1" height="32.8" fill="rgb(117,117,117)"/><rect x="283" y="364.3" width="1" height="32.8" fill="rgb(144,144,144)"/><rect x="284" y="364.3" width="1" height="32.8" fill="rgb(225,225,225)"/><rect x="289" y="364.3" width="1" height="32.8" fill="rgb(171,171,171)"/><rect x="290" y="364.3" width="1" height="32.8" fill="rgb(198,198,198)"/><rect x="292" y="364.3" width="1" height="32.8" fill="rgb(225,225,225)"/><rect x="293" y="364.3" width="1" height="32.8" fill="rgb(144,144,144)"/><rect x="294" y="364.3" width="1" height="32.8" fill="rgb(117,117,117)"/><rect x="295" y="364.3" width="1" height="32.8" fill="rgb(198,198,198)"/><rect x="296" y="364.3" width="1" height="32.8" fill="rgb(144,144,144)"/><rect x="297" y="364.3" width="1" height="32.8" fill="rgb(144,144,144)"/><rect x="298" y="364.3" width="1" height="32.8" fill="rgb(225,225,225)"/><rect x="301" y="364.3" width="1" height="32.8" fill="rgb(36,36,36)"/><rect x="302" y="364.3" width="1" height="32.8" fill="rgb(171,171,171)"/><rect x="306" y="364.3" width="1" height="32.8" fill="rgb(225,225,225)"/><rect x="307" y="364.3" width="1" height="32.8" fill="rgb(144,144,144)"/><rect x="308" y="364.3" width="1" height="32.8" fill="rgb(117,117,117)"/><rect x="309" y="364.3" width="1" height="32.8" fill="rgb(171,171,171)"/><rect x="310" y="364.3" width="1" height="32.8" fill="rgb(225,225,225)"/><rect x="311" y="364.3" width="1" height="32.8" fill="rgb(117,117,117)"/><rect x="312" y="364.3" width="1" height="32.8" fill="rgb(117,117,117)"/><rect x="313" y="364.3" width="1" height="32.8" fill="rgb(90,90,90)"/><rect x="314" y="364.3" width="1" height="32.8" fill="rgb(171,171,171)"/><rect x="317" y="364.3" width="1" height="32.8" fill="rgb(198,198,198)"/><rect x="318" y="364.3" width="1" height="32.8" fill="rgb(171,171,171)"/><rect x="319" y="364.3" width="1" height="32.8" fill="rgb(171,171,171)"/><rect x="320" y="364.3" width="1" height="32.8" fill="rgb(171,171,171)"/><rect x="321" y="364.3" width="1" height="32.8" fill="rgb(144,144,144)"/><rect x="322" y="364.3" width="1" height="32.8" fill="rgb(117,117,117)"/><rect x="323" y="364.3" width="1" height="32.8" fill="rgb(90,90,90)"/><rect x="324" y="364.3" width="1" height="32.8" fill="rgb(225,225,225)"/><rect x="328" y="364.3" width="1" height="32.8" fill="rgb(90,90,90)"/><rect x="329" y="364.3" width="1" height="32.8" fill="rgb(117,117,117)"/><rect x="330" y="364.3" width="1" height="32.8" fill="rgb(198,198,198)"/><rect x="331" y="364.3" width="1" height="32.8" fill="rgb(171,171,171)"/><rect x="332" y="364.3" width="1" height="32.8" fill="rgb(198,198,198)"/><rect x="334" y="364.3" width="1" height="32.8" fill="rgb(144,144,144)"/><rect x="335" y="364.3" width="1" height="32.8" fill="rgb(90,90,90)"/><rect x="336" y="364.3" width="1" height="32.8" fill="rgb(117,117,117)"/><rect x="337" y="364.3" width="1" height="32.8" fill="rgb(225,225,225)"/><rect x="338" y="364.3" width="1" height="32.8" fill="rgb(225,225,225)"/><rect x="339" y="364.3" width="1" height="32.8" fill="rgb(144,144,144)"/><rect x="340" y="364.3" width="1" height="32.8" fill="rgb(198,198,198)"/><rect x="341" y="364.3" width="1" height="32.8" fill="rgb(90,90,90)"/><rect x="342" y="364.3" width="1" height="32.8" fill="rgb(36,36,36)"/><rect x="343" y="364.3" width="1" height="32.8" fill="rgb(144,144,144)"/><rect x="346" y="364.3" width="1" height="32.8" fill="rgb(225,225,225)"/><rect x="347" y="364.3" width="1" height="32.8" fill="rgb(144,144,144)"/><rect x="348" y="364.3" width="1" height="32.8" fill="rgb(171,171,171)"/><rect x="349" y="364.3" width="1" height="32.8" fill="rgb(225,225,225)"/><rect x="350" y="364.3" width="1" height="32.8" fill="rgb(144,144,144)"/><rect x="351" y="364.3" width="1" height="32.8" fill="rgb(117,117,117)"/><rect x="352" y="364.3" width="1" height="32.8" fill="rgb(171,171,171)"/><rect x="353" y="364.3" width="1" height="32.8" fill="rgb(63,63,63)"/><rect x="354" y="364.3" width="1" height="32.8" fill="rgb(117,117,117)"/><rect x="355" y="364.3" width="1" height="32.8" fill="rgb(225,225,225)"/><rect x="356" y="364.3" width="1" height="32.8" fill="rgb(225,225,225)"/><rect x="357" y="364.3" width="1" height="32.8" fill="rgb(117,117,117)"/><rect x="358" y="364.3" width="1" height="32.8" fill="rgb(198,198,198)"/><rect x="360" y="364.3" width="1" height="32.8" fill="rgb(171,171,171)"/><rect x="361" y="364.3" width="1" height="32.8" fill="rgb(198,198,198)"/><rect x="366" y="364.3" width="1" height="32.8" fill="rgb(117,117,117)"/><rect x="367" y="364.3" width="1" height="32.8" fill="rgb(117,117,117)"/><rect x="368" y="364.3" width="1" height="32.8" fill="rgb(225,225,225)"/><rect x="373" y="364.3" width="1" height="32.8" fill="rgb(225,225,225)"/><rect x="374" y="364.3" width="1" height="32.8" fill="rgb(117,117,117)"/><rect x="375" y="364.3" width="1" height="32.8" fill="rgb(144,144,144)"/><rect x="376" y="364.3" width="1" height="32.8" fill="rgb(117,117,117)"/><rect x="377" y="364.3" width="1" height="32.8" fill="rgb(198,198,198)"/></g>
<g shape-rendering="crispEdges"><rect x="164.2" y="397.2" width="0.80" height="8.2" fill="#c03030"/><rect x="165" y="397.2" width="1.00" height="8.2" fill="#e84040"/><rect x="166" y="397.2" width="1.00" height="8.2" fill="#f04848"/><rect x="167" y="397.2" width="1.00" height="8.2" fill="#f04a4a"/><rect x="168" y="397.2" width="1.00" height="8.2" fill="#f04a4a"/><rect x="169" y="397.2" width="1.00" height="8.2" fill="#f04a4a"/><rect x="170" y="397.2" width="1.00" height="8.2" fill="#f05050"/><rect x="171" y="397.2" width="1.00" height="8.2" fill="#d85050"/><rect x="172" y="397.2" width="1.00" height="8.2" fill="#e05050"/><rect x="173" y="397.2" width="1.00" height="8.2" fill="#f05858"/><rect x="174" y="397.2" width="1.00" height="8.2" fill="#e85050"/><rect x="175" y="397.2" width="1.00" height="8.2" fill="#d84848"/><rect x="176" y="397.2" width="1.00" height="8.2" fill="#f06060"/><rect x="177" y="397.2" width="1.00" height="8.2" fill="#e85858"/><rect x="178" y="397.2" width="1.00" height="8.2" fill="#e85858"/><rect x="179" y="397.2" width="1.00" height="8.2" fill="#f06868"/><rect x="180" y="397.2" width="1.00" height="8.2" fill="#f06878"/><rect x="181" y="397.2" width="1.00" height="8.2" fill="#f07080"/><rect x="182" y="397.2" width="1.00" height="8.2" fill="#f07080"/><rect x="183" y="397.2" width="1.00" height="8.2" fill="#f06a7a"/><rect x="184" y="397.2" width="1.00" height="8.2" fill="#d05070"/><rect x="185" y="397.2" width="1.00" height="8.2" fill="#e07080"/><rect x="186" y="397.2" width="1.00" height="8.2" fill="#e88080"/><rect x="187" y="397.2" width="1.00" height="8.2" fill="#e88080"/><rect x="188" y="397.2" width="1.00" height="8.2" fill="#e88080"/><rect x="189" y="397.2" width="1.00" height="8.2" fill="#e88080"/><rect x="190" y="397.2" width="1.00" height="8.2" fill="#f08080"/><rect x="191" y="397.2" width="1.00" height="8.2" fill="#f08080"/><rect x="192" y="397.2" width="1.00" height="8.2" fill="#f08080"/><rect x="193" y="397.2" width="1.00" height="8.2" fill="#f08080"/><rect x="194" y="397.2" width="1.00" height="8.2" fill="#e88080"/><rect x="195" y="397.2" width="1.00" height="8.2" fill="#f08080"/><rect x="196" y="397.2" width="1.00" height="8.2" fill="#f09090"/><rect x="197" y="397.2" width="1.00" height="8.2" fill="#f08888"/><rect x="198" y="397.2" width="1.00" height="8.2" fill="#f0a0b0"/><rect x="199" y="397.2" width="9.00" height="8.2" fill="#f8bce0"/><rect x="208" y="397.2" width="1.00" height="8.2" fill="#f0b0d8"/><rect x="209" y="397.2" width="3.00" height="8.2" fill="#f8bce0"/><rect x="212" y="397.2" width="1.00" height="8.2" fill="#efaed6"/><rect x="213" y="397.2" width="4.00" height="8.2" fill="#f8bce0"/><rect x="217" y="397.2" width="2.00" height="8.2" fill="#f0b0d8"/><rect x="219" y="397.2" width="2.00" height="8.2" fill="#f8bce0"/><rect x="221" y="397.2" width="1.00" height="8.2" fill="#f0b0d8"/><rect x="222" y="397.2" width="4.00" height="8.2" fill="#f8bce0"/><rect x="226" y="397.2" width="1.00" height="8.2" fill="#f0b2da"/><rect x="227" y="397.2" width="6.00" height="8.2" fill="#f8bce0"/><rect x="233" y="397.2" width="1.00" height="8.2" fill="#f0b2da"/><rect x="234" y="397.2" width="18.00" height="8.2" fill="#f6bade"/><rect x="252" y="397.2" width="5.50" height="8.2" fill="#f8bce0"/><rect x="257.5" y="397.2" width="1.00" height="8.2" fill="#d0c0e8"/><rect x="258.5" y="397.2" width="1.50" height="8.2" fill="#c0c0ee"/><rect x="260" y="397.2" width="1.00" height="8.2" fill="#b0b0e4"/><rect x="261" y="397.2" width="2.00" height="8.2" fill="#c4c4f0"/><rect x="263" y="397.2" width="1.00" height="8.2" fill="#b4b4e8"/><rect x="264" y="397.2" width="2.00" height="8.2" fill="#c0c0ee"/><rect x="266" y="397.2" width="18.00" height="8.2" fill="#d4d4f8"/><rect x="284" y="397.2" width="18.00" height="8.2" fill="#d2d2f8"/><rect x="302" y="397.2" width="4.00" height="8.2" fill="#c2bef8"/><rect x="306" y="397.2" width="1.00" height="8.2" fill="#b0acf0"/><rect x="307" y="397.2" width="5.00" height="8.2" fill="#c0bcf8"/><rect x="312" y="397.2" width="1.00" height="8.2" fill="#b0acf0"/><rect x="313" y="397.2" width="9.00" height="8.2" fill="#c0bcf8"/><rect x="322" y="397.2" width="1.00" height="8.2" fill="#b4b0f0"/><rect x="323" y="397.2" width="4.80" height="8.2" fill="#c4c0f8"/><rect x="327.8" y="397.2" width="13.70" height="8.2" fill="#7c7cf8"/><rect x="341.5" y="397.2" width="6.50" height="8.2" fill="#6048e8"/><rect x="348" y="397.2" width="1.00" height="8.2" fill="#5840e0"/><rect x="349" y="397.2" width="7.00" height="8.2" fill="#6450ea"/><rect x="356" y="397.2" width="1.00" height="8.2" fill="#5840e0"/><rect x="357" y="397.2" width="9.00" height="8.2" fill="#6048e8"/><rect x="366" y="397.2" width="1.00" height="8.2" fill="#5840e0"/><rect x="367" y="397.2" width="6.90" height="8.2" fill="#6450ea"/><rect x="373.9" y="397.2" width="6.70" height="8.2" fill="#2000d0"/><rect x="380.6" y="397.2" width="1.60" height="8.2" fill="#3a0aa0"/></g>
<path d="M164.2,456.3 L164.2,433 L164.6,439.2 L165.4,442.3 L166.9,446.2 L169.2,449.2 L172.3,451.5 L175.4,453.1 L180,454.3 L187.7,454.9 L201.5,455.4 L230,455.8 Z" fill="#bcbcbc"/>
<line x1="163.85" y1="456.3" x2="393.5" y2="456.3" stroke="#c8c8c8" stroke-width="1.1"/>
<line x1="270" y1="456.6" x2="340" y2="456.6" stroke="#b4b4b4" stroke-width="1"/>
<line x1="340" y1="456.8" x2="381" y2="456.8" stroke="#acacac" stroke-width="1.4"/>
<path d="M330,456.3 L360,456.8 L372,457.3 L378,458 L380.5,459.3 L381.7,462 L382.2,466 L382.4,470.4 L382.9,470.4 L382.9,456.3 Z" fill="#bcbcbc"/>
<polyline fill="none" stroke="#00ff00" stroke-width="2" stroke-linejoin="round" points="163.9,344.5 164.2,343 164.2,320 164.4,308 165.0,303 165.4,298.2 165.8,295.9 166.1,295.2 166.7,291.8 167.4,290.6 168,287.6 169.2,286.9 170.3,288 170.9,286.1 171.4,283.9 171.6,278.6 171.8,275.2 172.9,274 173.7,271.8 174.4,269.5 175.6,269.5 176.5,270.7 177.1,267.3 179.3,266.5 181.6,268 183.9,269.5 186.1,267.7 188.4,266.7 192,267.5 195.4,268.2 198.9,269.5 202.4,271.8 208.1,274.4 213.9,277 222,281.1 235.4,288.5 247.7,294.6 260,302.3 272.3,309.2 284.6,316.2 300,324.6 309.5,329.2 321.1,335 332.6,340.4 344.2,345.2 351.8,348.5 353.8,347.9 359.5,350.8 366.3,353.3 367.6,352.3 373,355.2 376.8,355.4 382.6,358.7"/>
<rect x="163.85" y="261.5" width="229.65" height="212.10" fill="none" stroke="#0a0a0a" stroke-width="1.5"/>
<line x1="160" y1="358.60" x2="163.85" y2="358.60" stroke="#0a0a0a" stroke-width="1.2"/>
<text x="156.3" y="361.6" font-size="8.9" text-anchor="end" fill="#1e1b1c" stroke="#1e1b1c" textLength="11.01" lengthAdjust="spacingAndGlyphs">0.0</text>
<line x1="160" y1="345.92" x2="163.85" y2="345.92" stroke="#0a0a0a" stroke-width="1.2"/>
<text x="156.3" y="348.92" font-size="8.9" text-anchor="end" fill="#1e1b1c" stroke="#1e1b1c" textLength="11.01" lengthAdjust="spacingAndGlyphs">0.1</text>
<line x1="160" y1="333.24" x2="163.85" y2="333.24" stroke="#0a0a0a" stroke-width="1.2"/>
<text x="156.3" y="336.24" font-size="8.9" text-anchor="end" fill="#1e1b1c" stroke="#1e1b1c" textLength="11.01" lengthAdjust="spacingAndGlyphs">0.2</text>
<line x1="160" y1="320.56" x2="163.85" y2="320.56" stroke="#0a0a0a" stroke-width="1.2"/>
<text x="156.3" y="323.56" font-size="8.9" text-anchor="end" fill="#1e1b1c" stroke="#1e1b1c" textLength="11.01" lengthAdjust="spacingAndGlyphs">0.3</text>
<line x1="160" y1="307.88" x2="163.85" y2="307.88" stroke="#0a0a0a" stroke-width="1.2"/>
<text x="156.3" y="310.88" font-size="8.9" text-anchor="end" fill="#1e1b1c" stroke="#1e1b1c" textLength="11.01" lengthAdjust="spacingAndGlyphs">0.4</text>
<line x1="160" y1="295.20" x2="163.85" y2="295.20" stroke="#0a0a0a" stroke-width="1.2"/>
<text x="156.3" y="298.2" font-size="8.9" text-anchor="end" fill="#1e1b1c" stroke="#1e1b1c" textLength="11.01" lengthAdjust="spacingAndGlyphs">0.5</text>
<line x1="160" y1="282.52" x2="163.85" y2="282.52" stroke="#0a0a0a" stroke-width="1.2"/>
<text x="156.3" y="285.52" font-size="8.9" text-anchor="end" fill="#1e1b1c" stroke="#1e1b1c" textLength="11.01" lengthAdjust="spacingAndGlyphs">0.6</text>
<line x1="160" y1="269.84" x2="163.85" y2="269.84" stroke="#0a0a0a" stroke-width="1.2"/>
<text x="156.3" y="272.84" font-size="8.9" text-anchor="end" fill="#1e1b1c" stroke="#1e1b1c" textLength="11.01" lengthAdjust="spacingAndGlyphs">0.7</text>
<text x="155.9" y="409.88" font-size="8.9" text-anchor="end" fill="#1e1b1c" stroke="#1e1b1c" textLength="8.93" lengthAdjust="spacingAndGlyphs">75</text>
<text x="155.9" y="426.65" font-size="8.9" text-anchor="end" fill="#1e1b1c" stroke="#1e1b1c" textLength="8.93" lengthAdjust="spacingAndGlyphs">50</text>
<text x="155.9" y="443.43" font-size="8.9" text-anchor="end" fill="#1e1b1c" stroke="#1e1b1c" textLength="8.93" lengthAdjust="spacingAndGlyphs">25</text>
<text x="155.9" y="460.2" font-size="8.9" text-anchor="end" fill="#1e1b1c" stroke="#1e1b1c" textLength="4.46" lengthAdjust="spacingAndGlyphs">0</text>
<text x="155.9" y="476.98" font-size="8.9" text-anchor="end" fill="#1e1b1c" stroke="#1e1b1c" textLength="13.28" lengthAdjust="spacingAndGlyphs">&#8211;25</text>
<line x1="163.30" y1="473.6" x2="163.30" y2="476.6" stroke="#0a0a0a" stroke-width="1.2"/>
<text x="163.3" y="488.6" font-size="8.9" text-anchor="middle" fill="#1e1b1c" stroke="#1e1b1c" textLength="4.46" lengthAdjust="spacingAndGlyphs">0</text>
<line x1="205.80" y1="473.6" x2="205.80" y2="476.6" stroke="#0a0a0a" stroke-width="1.2"/>
<text x="205.8" y="488.6" font-size="8.9" text-anchor="middle" fill="#1e1b1c" stroke="#1e1b1c" textLength="19.94" lengthAdjust="spacingAndGlyphs">2,500</text>
<line x1="248.30" y1="473.6" x2="248.30" y2="476.6" stroke="#0a0a0a" stroke-width="1.2"/>
<text x="248.3" y="488.6" font-size="8.9" text-anchor="middle" fill="#1e1b1c" stroke="#1e1b1c" textLength="19.94" lengthAdjust="spacingAndGlyphs">5,000</text>
<line x1="290.80" y1="473.6" x2="290.80" y2="476.6" stroke="#0a0a0a" stroke-width="1.2"/>
<text x="290.8" y="488.6" font-size="8.9" text-anchor="middle" fill="#1e1b1c" stroke="#1e1b1c" textLength="19.94" lengthAdjust="spacingAndGlyphs">7,500</text>
<line x1="333.30" y1="473.6" x2="333.30" y2="476.6" stroke="#0a0a0a" stroke-width="1.2"/>
<text x="333.3" y="488.6" font-size="8.9" text-anchor="middle" fill="#1e1b1c" stroke="#1e1b1c" textLength="24.40" lengthAdjust="spacingAndGlyphs">10,000</text>
<line x1="375.80" y1="473.6" x2="375.80" y2="476.6" stroke="#0a0a0a" stroke-width="1.2"/>
<text x="375.8" y="488.6" font-size="8.9" text-anchor="middle" fill="#1e1b1c" stroke="#1e1b1c" textLength="24.40" lengthAdjust="spacingAndGlyphs">12,500</text>
<rect x="322.5" y="273" width="41" height="21.5" fill="#fff"/>
<text x="361.1" y="280.6" font-size="8.3" text-anchor="end" fill="#1e1b1c" stroke="#1e1b1c" textLength="37.2" lengthAdjust="spacingAndGlyphs">NES = 1.56</text>
<text x="361.1" y="290.7" font-size="8.3" text-anchor="end" fill="#1e1b1c" stroke="#1e1b1c" textLength="32.9" lengthAdjust="spacingAndGlyphs">FDR = 0.0</text>
<text x="168.8" y="412.3" font-size="8.2" text-anchor="start" fill="#dc2c30" stroke="#dc2c30" textLength="91.7" lengthAdjust="spacingAndGlyphs">'na_pos' (positively correlated)</text>
<text x="220" y="428.1" font-size="10.4" text-anchor="start" fill="#1e1b1c" stroke="#1e1b1c" textLength="117" lengthAdjust="spacingAndGlyphs">DUSP22-associated genes</text>
<text x="243.8" y="448.9" font-size="8.4" text-anchor="start" fill="#1e1b1c" stroke="#1e1b1c" textLength="63.7" lengthAdjust="spacingAndGlyphs">Zero cross at 5523</text>
<text x="268" y="469.5" font-size="8.2" text-anchor="start" fill="#3b3b9e" stroke="#3b3b9e" textLength="95.7" lengthAdjust="spacingAndGlyphs">'na_neg' (negatively correlated)</text>
<text x="225.1" y="503.9" font-size="10.4" text-anchor="start" fill="#1e1b1c" stroke="#1e1b1c" textLength="107.6" lengthAdjust="spacingAndGlyphs">Rank in ordered dataset</text>
<g transform="translate(137.6,362.7) rotate(-90)"><text x="0" y="0" font-size="10.2" fill="#1e1b1c" stroke="#1e1b1c" textLength="97" lengthAdjust="spacingAndGlyphs">Enrichment score (ES)</text></g>
<g transform="translate(135.8,510) rotate(-90)"><text x="0" y="0" font-size="10.4" fill="#1e1b1c" stroke="#1e1b1c" textLength="137.7" lengthAdjust="spacingAndGlyphs">Ranked list metric (PreRanked)</text></g>
<line x1="166.5" y1="517.4" x2="173.4" y2="517.4" stroke="#2f9a32" stroke-width="1.1"/>
<text x="177.3" y="519.1" font-size="8.4" text-anchor="start" fill="#1e1b1c" stroke="#1e1b1c" textLength="65.4" lengthAdjust="spacingAndGlyphs">Enrichment profile</text>
<line x1="254.7" y1="517.4" x2="262" y2="517.4" stroke="#000" stroke-width="1.1"/>
<text x="265.8" y="519.1" font-size="8.4" text-anchor="start" fill="#1e1b1c" stroke="#1e1b1c" textLength="13" lengthAdjust="spacingAndGlyphs">Hits</text>
<path d="M288.5,516 L295,516 L295,517 L301.2,517" fill="none" stroke="#d0d0d0" stroke-width="0.9"/>
<text x="305.8" y="519.1" font-size="8.4" text-anchor="start" fill="#1e1b1c" stroke="#1e1b1c" textLength="77.4" lengthAdjust="spacingAndGlyphs">Ranking metric scores</text>
<rect x="0" y="0" width="520" height="1.5" fill="#262626"/>
<rect x="0" y="0" width="1.5" height="530" fill="#242424"/>
<rect x="518.3" y="0" width="1.7" height="530" fill="#1a1a1a"/>
<rect x="0" y="528" width="520" height="2" fill="#464646"/>
</svg></body></html>
